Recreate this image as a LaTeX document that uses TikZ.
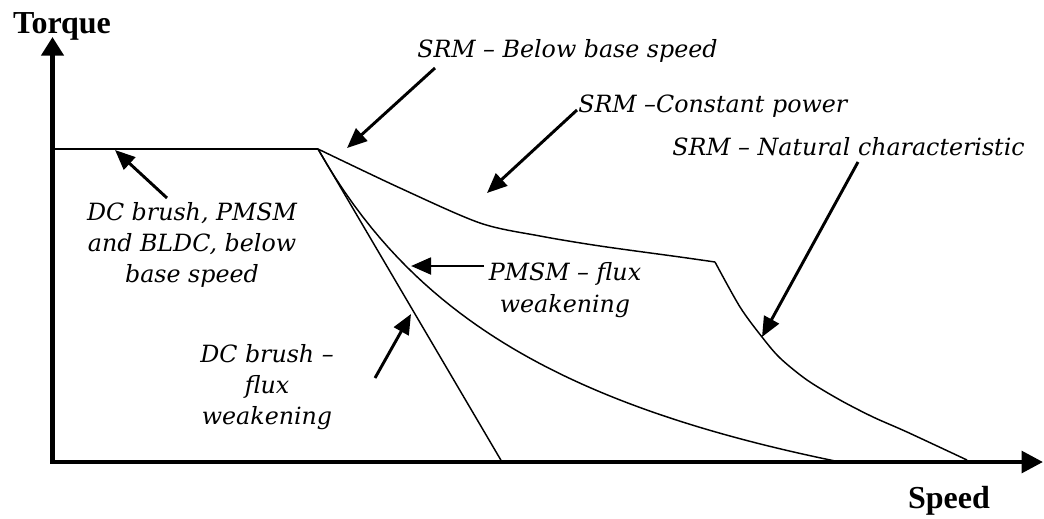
\documentclass[tikz,border=0pt]{standalone}
\usepackage{fontspec}
\setmainfont{DejaVu Serif}
\newfontfamily\axisfont{Liberation Serif}
\usetikzlibrary{arrows.meta}

\begin{document}
\begin{tikzpicture}[x=0.75pt,y=-0.75pt,
                    axis/.style={line width=3.4pt,line join=miter,
                                 {Triangle[length=14pt,width=16.5pt]}-{Triangle[length=16pt,width=16pt]}},
                    curve/.style={line width=1.1pt},
                    pointer/.style={line width=2.2pt,-{Triangle[length=15pt,width=12.5pt]}},
                    axislabel/.style={font=\axisfont\bfseries\fontsize{24}{28}\selectfont},
                    tag/.style={font=\itshape\fontsize{17.8}{23.5}\selectfont,align=center,inner sep=0pt}
                    ]
                \useasboundingbox (0,0) rectangle (1044,518);

                % The axes
                \coordinate (yaxis) at (52.5,37);
                \coordinate (origin) at (52.5,462);
                \coordinate (xaxis) at (1043,462);
                \draw[axis] (yaxis) -- (origin) -- (xaxis);
                \node[axislabel,anchor=base] (torque) at (62,33) {Torque};
                \node[axislabel,anchor=base] (speed) at (949,508) {Speed};

                % The characteristics
                \coordinate (knee) at (318,149);
                \coordinate (corner) at (715,262);
                \draw[curve] (origin |- knee) -- (knee);
                \draw[curve] (knee) -- (502,462);
                % PMSM, torque ~ 1/speed
                \draw[curve] plot[domain=318:840,samples=60] (\x,{622.7-1269.52/((\x-50)/100)});
                \draw[curve] plot[smooth,tension=0.5] coordinates {(318,149) (400,188) (480,223)
                    (540,236) (600,246) (680,257) (715,262)};
                \draw[curve] plot[smooth,tension=0.5] coordinates {(715,262) (740,307) (762,337) (780,358) (807,380)
                    (840,400) (873,417) (907,432) (967,460)};

                % The labels
                \node[tag,anchor=base west] (base) at (417,57) {SRM -- Below base speed};
                \node[tag,anchor=base west] (cpower) at (578,112) {SRM --Constant power};
                \node[tag,anchor=base west] (natural) at (672,155) {SRM -- Natural characteristic};
                \node[tag] (flat) at (192,245) {DC brush, PMSM\\and BLDC, below\\base speed};
                \node[tag] (pmsm) at (565,290) {PMSM -- flux\\weakening};
                \node[tag] (dcbrush) at (267,387) {DC brush --\\flux\\weakening};

                % The pointers
                \coordinate (baseTail) at (435,68);
                \coordinate (baseTip) at (347,148);
                \coordinate (cpowerTail) at (577,110);
                \coordinate (cpowerTip) at (487,193);
                \coordinate (naturalTail) at (858,162);
                \coordinate (naturalTip) at (762,337);
                \coordinate (flatTail) at (167,198);
                \coordinate (flatTip) at (115,150);
                \coordinate (pmsmTail) at (484,266);
                \coordinate (pmsmTip) at (411,266);
                \coordinate (dcbrushTail) at (375,378);
                \coordinate (dcbrushTip) at (411,314);
                \foreach \p in {base,cpower,natural,flat,pmsm,dcbrush}
                    \draw[pointer] (\p Tail) -- (\p Tip);
            \end{tikzpicture}
\end{document}
